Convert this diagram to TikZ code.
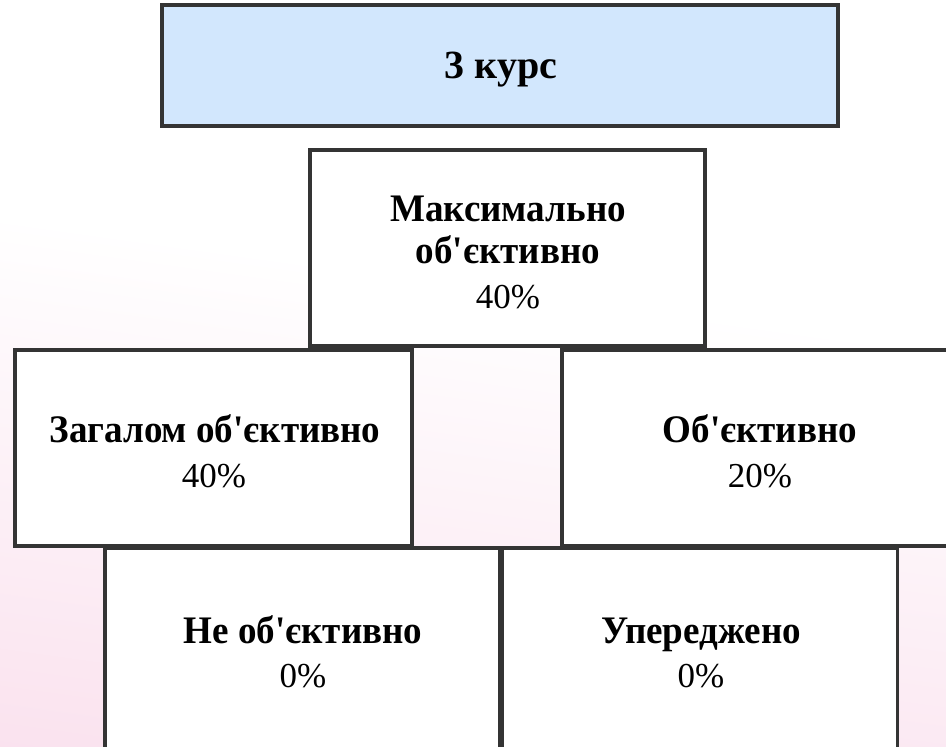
\documentclass[tikz,border=0pt]{standalone}
\usepackage{fontspec}
\setmainfont{Liberation Serif}[Ligatures=TeXOff]
\newfontfamily\boldnarrow{Liberation Serif}[Ligatures=TeXOff, FakeStretch=0.95]
\definecolor{bgpink}{RGB}{247,208,228}
\definecolor{topblue}{RGB}{210,231,253}
\definecolor{edgegray}{RGB}{52,52,52}
\pgfdeclareverticalshading{bgsh}{100bp}{color(0bp)=(bgpink); color(56bp)=(white); color(100bp)=(white)}
\begin{document}
\begin{tikzpicture}[x=0.5pt,y=-0.5pt,
  box/.style={draw=edgegray, line width=1.6pt, fill=white, rectangle, inner sep=0pt},
  lbl/.style={anchor=base, font=\boldnarrow\fontsize{19.5}{21}\selectfont\bfseries, inner sep=0pt},
  ttl/.style={anchor=base, font=\fontsize{20}{21}\selectfont\bfseries, inner sep=0pt},
  pct/.style={anchor=base, font=\fontsize{17.5}{21}\selectfont, inner sep=0pt}]
\useasboundingbox (0,0) rectangle (946,746);
\clip (0,0) rectangle (946,746);
\shade[shading=bgsh, shading angle=-8] (0,0) rectangle (946,746);

\node (top) [box, fill=topblue, minimum width=338pt, minimum height=60.5pt] at (500,65.5) {};
\node (max) [box, minimum width=197.5pt, minimum height=98pt] at (507.5,248) {};
\node (zag) [box, minimum width=198.5pt, minimum height=98pt] at (213.5,448) {};
\node (obj) [box, minimum width=199pt, minimum height=98pt] at (761,448) {};
\node (ne)  [box, minimum width=197.5pt, minimum height=106pt] at (302.5,654) {};
\node (up)  [box, minimum width=197.5pt, minimum height=106pt] at (700,654) {};

\node (topt) [ttl] at (501,78) {3 курс};
\node (maxa) [lbl] at (508,221) {Максимально};
\node (maxb) [lbl] at (508,263) {об'єктивно};
\node (maxc) [pct] at (508,308) {40\%};
\node (zaga) [lbl] at (215,442) {Загалом об'єктивно};
\node (zagb) [pct] at (214,487) {40\%};
\node (obja) [lbl] at (760,442) {Об'єктивно};
\node (objb) [pct] at (760,487) {20\%};
\node (nea) [lbl] at (303,643) {Не об'єктивно};
\node (neb) [pct] at (303,687) {0\%};
\node (upa) [lbl] at (701,643) {Упереджено};
\node (upb) [pct] at (701,687) {0\%};
\end{tikzpicture}
\end{document}
